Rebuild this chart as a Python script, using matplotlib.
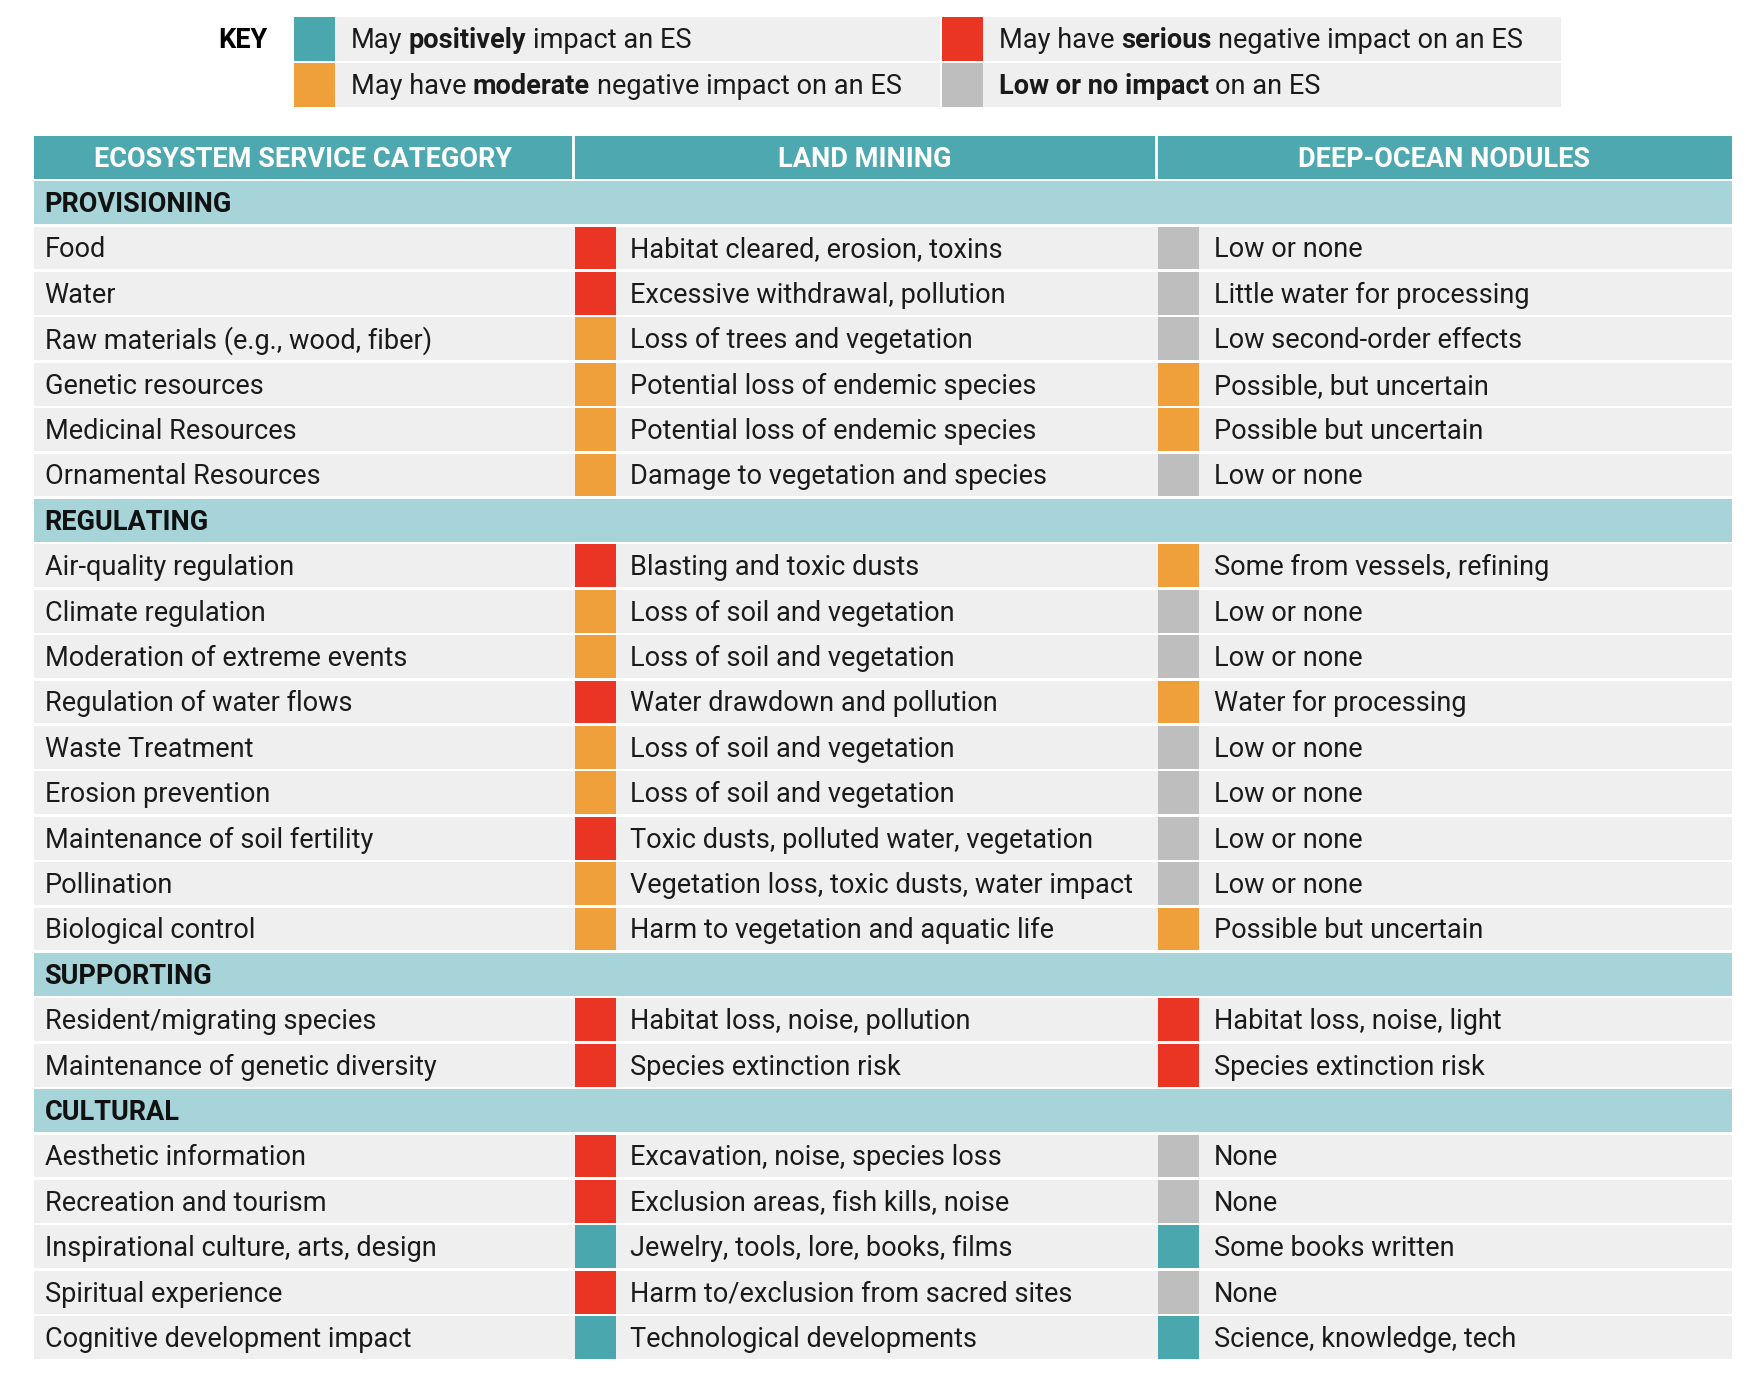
import matplotlib.pyplot as plt
from matplotlib.patches import Rectangle

plt.rcParams['font.family'] = ['Roboto', 'DejaVu Sans']

# ---- data ----
headers = ["ECOSYSTEM SERVICE CATEGORY", "LAND MINING", "DEEP-OCEAN NODULES"]
sections = ["PROVISIONING", "REGULATING", "SUPPORTING", "CULTURAL"]
section_sizes = [6, 9, 2, 5]
services = [
    "Food", "Water", "Raw materials (e.g., wood, fiber)", "Genetic resources",
    "Medicinal Resources", "Ornamental Resources",
    "Air-quality regulation", "Climate regulation", "Moderation of extreme events",
    "Regulation of water flows", "Waste Treatment", "Erosion prevention",
    "Maintenance of soil fertility", "Pollination", "Biological control",
    "Resident/migrating species", "Maintenance of genetic diversity",
    "Aesthetic information", "Recreation and tourism",
    "Inspirational culture, arts, design", "Spiritual experience",
    "Cognitive development impact",
]
land_text = [
    "Habitat cleared, erosion, toxins", "Excessive withdrawal, pollution",
    "Loss of trees and vegetation", "Potential loss of endemic species",
    "Potential loss of endemic species", "Damage to vegetation and species",
    "Blasting and toxic dusts", "Loss of soil and vegetation",
    "Loss of soil and vegetation", "Water drawdown and pollution",
    "Loss of soil and vegetation", "Loss of soil and vegetation",
    "Toxic dusts, polluted water, vegetation",
    "Vegetation loss, toxic dusts, water impact",
    "Harm to vegetation and aquatic life",
    "Habitat loss, noise, pollution", "Species extinction risk",
    "Excavation, noise, species loss", "Exclusion areas, fish kills, noise",
    "Jewelry, tools, lore, books, films", "Harm to/exclusion from sacred sites",
    "Technological developments",
]
land_impact = ["S", "S", "M", "M", "M", "M",
               "S", "M", "M", "S", "M", "M", "S", "M", "M",
               "S", "S",
               "S", "S", "P", "S", "P"]
ocean_text = [
    "Low or none", "Little water for processing", "Low second-order effects",
    "Possible, but uncertain", "Possible but uncertain", "Low or none",
    "Some from vessels, refining", "Low or none", "Low or none",
    "Water for processing", "Low or none", "Low or none", "Low or none",
    "Low or none", "Possible but uncertain",
    "Habitat loss, noise, light", "Species extinction risk",
    "None", "None", "Some books written", "None", "Science, knowledge, tech",
]
ocean_impact = ["L", "L", "L", "M", "M", "L",
                "M", "L", "L", "M", "L", "L", "L", "L", "M",
                "S", "S",
                "L", "L", "P", "L", "P"]
key_parts = {
    "P": [("May", "normal"), ("positively", "bold"), ("impact an ES", "normal")],
    "S": [("May have", "normal"), ("serious", "bold"), ("negative impact on an ES", "normal")],
    "M": [("May have", "normal"), ("moderate", "bold"), ("negative impact on an ES", "normal")],
    "L": [("Low or no impact", "bold"), ("on an ES", "normal")],
}

impact_color = {"P": "#4aa7ae", "S": "#ea3424", "M": "#f0a03b", "L": "#bebebe"}
header_color = "#4ea8b0"
section_color = "#a6d4d8"
row_color = "#efefef"

# ---- layout (pixels) ----
W, H = 1758, 1378
fig = plt.figure(figsize=(W / 100, H / 100), dpi=100)
ax = fig.add_axes([0, 0, 1, 1])
ax.set_xlim(0, W)
ax.set_ylim(H, 0)
ax.axis('off')
r = fig.canvas.get_renderer()

left, right = 33.6, 1732
col_x = [left, 573, 1156]
top = 135.7
pitch = 45.4
gap = 2.5
sw = 41
fs = 19.5
dy = 2  # small nudge so text sits like the reference


def width_of(s, weight):
    t = ax.text(0, 0, s, fontsize=fs, fontweight=weight)
    w = t.get_window_extent(r).width
    t.remove()
    return w


space_w = width_of("M M", "normal") - width_of("MM", "normal")


def rich(x, y, parts):
    for s, wgt in parts:
        t = ax.text(x, y, s, fontsize=fs, fontweight=wgt, va='center',
                    ha='left', color='#1a1a1a')
        x += t.get_window_extent(r).width + space_w


# key
ax.text(243, 39 + dy, "KEY", fontsize=fs, fontweight='bold', ha='center', va='center')
key_order = [["P", "S"], ["M", "L"]]
key_y = [16.8, 62.5]
key_x = [293.7, 941.8]
key_end = [939.6, 1560.7]
for i, row in enumerate(key_order):
    for j, code in enumerate(row):
        y0 = key_y[i]
        ax.add_patch(Rectangle((key_x[j], y0), sw, 44.5, color=impact_color[code], lw=0))
        ax.add_patch(Rectangle((key_x[j] + sw, y0), key_end[j] - key_x[j] - sw, 44.5,
                               color=row_color, lw=0))
        rich(key_x[j] + sw + 16, y0 + 22 + dy, key_parts[code])

# header
ax.add_patch(Rectangle((left, top), right - left, pitch - gap, color=header_color, lw=0))
col_edges = col_x + [right]
for c, h in enumerate(headers):
    ax.text((col_edges[c] + col_edges[c + 1]) / 2, top + (pitch - gap) / 2 + dy, h,
            fontsize=fs, fontweight='bold', color='white', ha='center', va='center')
for xd in col_x[1:]:
    ax.plot([xd, xd], [top, top + pitch - gap], color='white', lw=2)

# body
row = 1
k = 0
for s, n in zip(sections, section_sizes):
    y0 = top + row * pitch
    ax.add_patch(Rectangle((left, y0), right - left, pitch - gap, color=section_color, lw=0))
    ax.text(left + 11, y0 + (pitch - gap) / 2 + dy, s, fontsize=fs, fontweight='bold',
            color='#111111', ha='left', va='center')
    row += 1
    for _ in range(n):
        y0 = top + row * pitch
        yc = y0 + (pitch - gap) / 2 + dy
        ax.add_patch(Rectangle((left, y0), right - left, pitch - gap, color=row_color, lw=0))
        ax.add_patch(Rectangle((col_x[1] + 2, y0), sw, pitch - gap,
                               color=impact_color[land_impact[k]], lw=0))
        ax.add_patch(Rectangle((col_x[2] + 2, y0), sw, pitch - gap,
                               color=impact_color[ocean_impact[k]], lw=0))
        ax.text(left + 11, yc, services[k], fontsize=fs, color='#1a1a1a', ha='left', va='center')
        ax.text(col_x[1] + 57, yc, land_text[k], fontsize=fs, color='#1a1a1a', ha='left', va='center')
        ax.text(col_x[2] + 58, yc, ocean_text[k], fontsize=fs, color='#1a1a1a', ha='left', va='center')
        row += 1
        k += 1

fig.savefig("out.png", dpi=100, facecolor='white')
